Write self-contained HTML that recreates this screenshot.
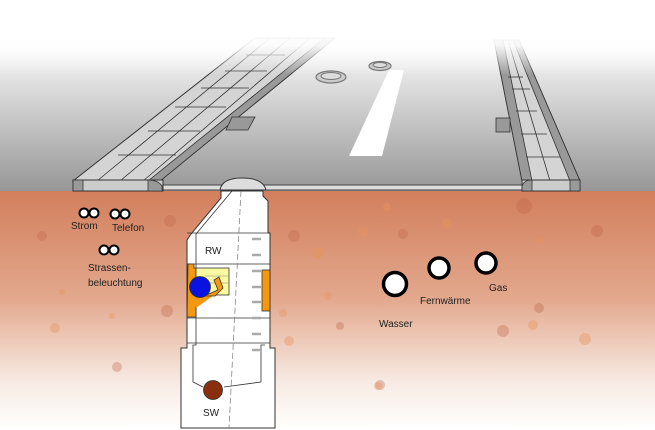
<!DOCTYPE html>
<html><head><meta charset="utf-8"><style>
html,body{margin:0;padding:0;background:#fff}
svg{display:block}
text{font-family:"Liberation Sans",sans-serif;font-size:10px;fill:#222}
</style></head><body>
<svg width="655" height="430" viewBox="0 0 655 430" xmlns="http://www.w3.org/2000/svg">
<defs>
<linearGradient id="sky" x1="0" y1="0" x2="0" y2="1">
<stop offset="0" stop-color="#fff"/><stop offset="0.18" stop-color="#fff"/>
<stop offset="1" stop-color="#979797"/></linearGradient>
<linearGradient id="soil" x1="0" y1="0" x2="0" y2="1">
<stop offset="0" stop-color="#d27f5c"/><stop offset="0.45" stop-color="#e3a88d"/>
<stop offset="0.8" stop-color="#f7ebe4"/><stop offset="1" stop-color="#fff"/></linearGradient>
<linearGradient id="fade" x1="0" y1="0" x2="0" y2="1">
<stop offset="0" stop-color="#fff" stop-opacity="1"/><stop offset="0.35" stop-color="#fff" stop-opacity="0.9"/><stop offset="1" stop-color="#fff" stop-opacity="0"/></linearGradient>
</defs>
<rect width="655" height="191" fill="url(#sky)"/>
<rect y="191" width="655" height="239" fill="url(#soil)"/>
<g fill="#c0664a" opacity="0.35">
<circle cx="170" cy="221" r="6"/><circle cx="294" cy="236" r="6"/><circle cx="403" cy="234" r="5"/>
<circle cx="524" cy="206" r="8"/><circle cx="597" cy="231" r="6"/><circle cx="42" cy="236" r="5"/>
<circle cx="167" cy="311" r="6"/><circle cx="340" cy="326" r="4"/><circle cx="503" cy="331" r="6"/>
<circle cx="117" cy="367" r="5"/><circle cx="380" cy="385" r="5"/><circle cx="539" cy="308" r="5"/>
</g>
<g fill="#e8955a" opacity="0.4">
<circle cx="387" cy="207" r="4"/><circle cx="447" cy="223" r="5"/><circle cx="363" cy="232" r="5"/>
<circle cx="318" cy="253" r="6"/><circle cx="585" cy="339" r="6"/><circle cx="533" cy="325" r="5"/>
<circle cx="55" cy="328" r="5"/><circle cx="289" cy="341" r="5"/><circle cx="328" cy="296" r="4"/>
<circle cx="62" cy="292" r="3"/><circle cx="112" cy="316" r="3"/><circle cx="378" cy="386" r="4"/>
<circle cx="283" cy="313" r="4"/><circle cx="541" cy="240" r="3"/>
</g>
<rect x="150" y="185" width="380" height="5" fill="#ddd" stroke="#444" stroke-width="1"/>
<polygon points="73,181 160,181 335,38 255,38" fill="#d4d4d4" stroke="#333" stroke-width="1"/>
<polygon points="148,181 160,181 335,38 325,38" fill="#999" stroke="#333" stroke-width="0.8"/>
<g stroke="#333" stroke-width="0.8" fill="none">
<line x1="97" y1="181" x2="270" y2="38"/><line x1="120" y1="181" x2="290" y2="38"/><line x1="143" y1="181" x2="310" y2="38"/>
<line x1="118" y1="155" x2="176" y2="155"/><line x1="148" y1="131" x2="200" y2="131"/><line x1="175" y1="107" x2="226" y2="107"/>
<line x1="201" y1="88" x2="249" y2="88"/><line x1="225" y1="71" x2="267" y2="71"/><line x1="246" y1="55" x2="285" y2="55"/>
</g>
<polygon points="232,117 255,117 248,130 226,130" fill="#999" stroke="#333" stroke-width="0.8"/>
<rect x="73" y="180" width="90" height="11" fill="#ccc" stroke="#333" stroke-width="1"/>
<rect x="73" y="180" width="10" height="11" fill="#999" stroke="#333" stroke-width="0.8"/>
<path d="M148,180 Q158,180 162,186 L162,191 L148,191 Z" fill="#999" stroke="#333" stroke-width="0.8"/>
<polygon points="522,181 580,181 519,40 494,40" fill="#d4d4d4" stroke="#333" stroke-width="1"/>
<polygon points="522,181 532,181 503,40 494,40" fill="#999" stroke="#333" stroke-width="0.8"/>
<polygon points="570,181 580,181 519,40 513,40" fill="#999" stroke="#333" stroke-width="0.8"/>
<g stroke="#333" stroke-width="0.8" fill="none">
<line x1="550" y1="181" x2="508" y2="40"/>
<line x1="508" y1="77" x2="523" y2="77"/><line x1="512" y1="89" x2="530" y2="89"/><line x1="516" y1="111" x2="537" y2="111"/>
<line x1="521" y1="134" x2="547" y2="134"/><line x1="526" y1="157" x2="560" y2="157"/>
</g>
<rect x="496" y="118" width="14" height="14" fill="#999" stroke="#333" stroke-width="0.8"/>
<rect x="522" y="180" width="58" height="11" fill="#ccc" stroke="#333" stroke-width="1"/>
<rect x="570" y="180" width="10" height="11" fill="#999" stroke="#333" stroke-width="0.8"/>
<path d="M532,180 Q524,180 522,186 L522,191 L532,191 Z" fill="#999" stroke="#333" stroke-width="0.8"/>
<rect x="0" y="30" width="655" height="45" fill="url(#fade)"/>
<ellipse cx="331" cy="77" rx="15" ry="6" fill="#ccc" stroke="#777" stroke-width="1.2"/>
<ellipse cx="331" cy="76" rx="10" ry="3.5" fill="#ddd" stroke="#777" stroke-width="1"/>
<ellipse cx="380" cy="66" rx="11" ry="4.5" fill="#ccc" stroke="#777" stroke-width="1.2"/>
<ellipse cx="380" cy="65" rx="7" ry="2.5" fill="#ddd" stroke="#777" stroke-width="1"/>
<polygon points="349,156 382,156 404,70 389,70" fill="#fff"/>
<path d="M220,190 Q222,178 242,178 Q263,178 266,190 Z" fill="#ddd" stroke="#333" stroke-width="1"/>
<path d="M221,191 L263,191 L263,196 L268,201 L268,233 L270,233 L270,348 L275,348 L275,428 L181,428 L181,348 L187,348 L187,240 L191,234 L221,198 Z" fill="#fff" stroke="#333" stroke-width="1"/>
<g stroke="#333" stroke-width="0.8" fill="none">
<path d="M232,191 L196,234 L196,345 L193,345 L193,382 L203,387"/>
<path d="M224,387 L261,382 L261,345 L265,345"/>
<line x1="187" y1="233" x2="268" y2="233"/>
<line x1="187" y1="264" x2="270" y2="264"/>
<line x1="187" y1="318" x2="270" y2="318"/>
<line x1="187" y1="343" x2="270" y2="343"/>
<line x1="241" y1="191" x2="229" y2="428" stroke-dasharray="6,3" stroke="#888"/>
</g>
<g stroke="#aaa" stroke-width="2.5">
<line x1="252" y1="239" x2="261" y2="239"/><line x1="252" y1="255" x2="261" y2="255"/>
<line x1="252" y1="271" x2="261" y2="271"/><line x1="252" y1="287" x2="261" y2="287"/>
<line x1="252" y1="302" x2="261" y2="302"/><line x1="252" y1="318" x2="261" y2="318"/>
<line x1="252" y1="334" x2="261" y2="334"/><line x1="252" y1="350" x2="261" y2="350"/>
</g>
<path d="M188,264 L194,264 L194,268 L196,268 L196,294 L209,294 L196,307 L196,317 L187,317 Z" fill="#f5980f" stroke="#333" stroke-width="0.8"/>
<path d="M196,296 L225,276 L217,293 L196,308 Z" fill="#f5980f"/>
<rect x="262" y="270" width="8" height="41" fill="#f5980f" stroke="#333" stroke-width="0.8"/>
<rect x="196" y="268" width="33" height="27" fill="#fafaa0" stroke="#333" stroke-width="0.8"/>
<g stroke="#888" stroke-width="0.6"><line x1="205" y1="276" x2="228" y2="276"/><line x1="205" y1="283" x2="228" y2="283"/></g>
<path d="M204,296 L218,290 L214,280 L219,277 L223,288 L215,296 Z" fill="#f5980f" stroke="#333" stroke-width="0.8"/>
<circle cx="200" cy="287" r="10.5" fill="#0a12e0" stroke="#333" stroke-width="0.8"/>
<circle cx="213" cy="390" r="9.5" fill="#8a2f0e" stroke="#333" stroke-width="0.8"/>
<text x="205" y="254">RW</text>
<text x="203" y="416">SW</text>
<g fill="#fff" stroke="#000">
<circle cx="395" cy="284" r="11.5" stroke-width="3.5"/>
<circle cx="439" cy="268" r="10" stroke-width="3.5"/>
<circle cx="486" cy="263" r="10" stroke-width="3.5"/>
<g stroke-width="2"><circle cx="84" cy="213" r="4.5"/><circle cx="94" cy="213" r="4.5"/>
<circle cx="115" cy="214" r="4.5"/><circle cx="125" cy="214" r="4.5"/>
<circle cx="104" cy="250" r="4.5"/><circle cx="114" cy="250" r="4.5"/></g>
</g>
<text x="71" y="229">Strom</text>
<text x="112" y="231">Telefon</text>
<text x="88" y="271">Strassen-</text>
<text x="88" y="286">beleuchtung</text>
<text x="379" y="327">Wasser</text>
<text x="420" y="304">Fernwärme</text>
<text x="489" y="291">Gas</text>
</svg>
</body></html>
